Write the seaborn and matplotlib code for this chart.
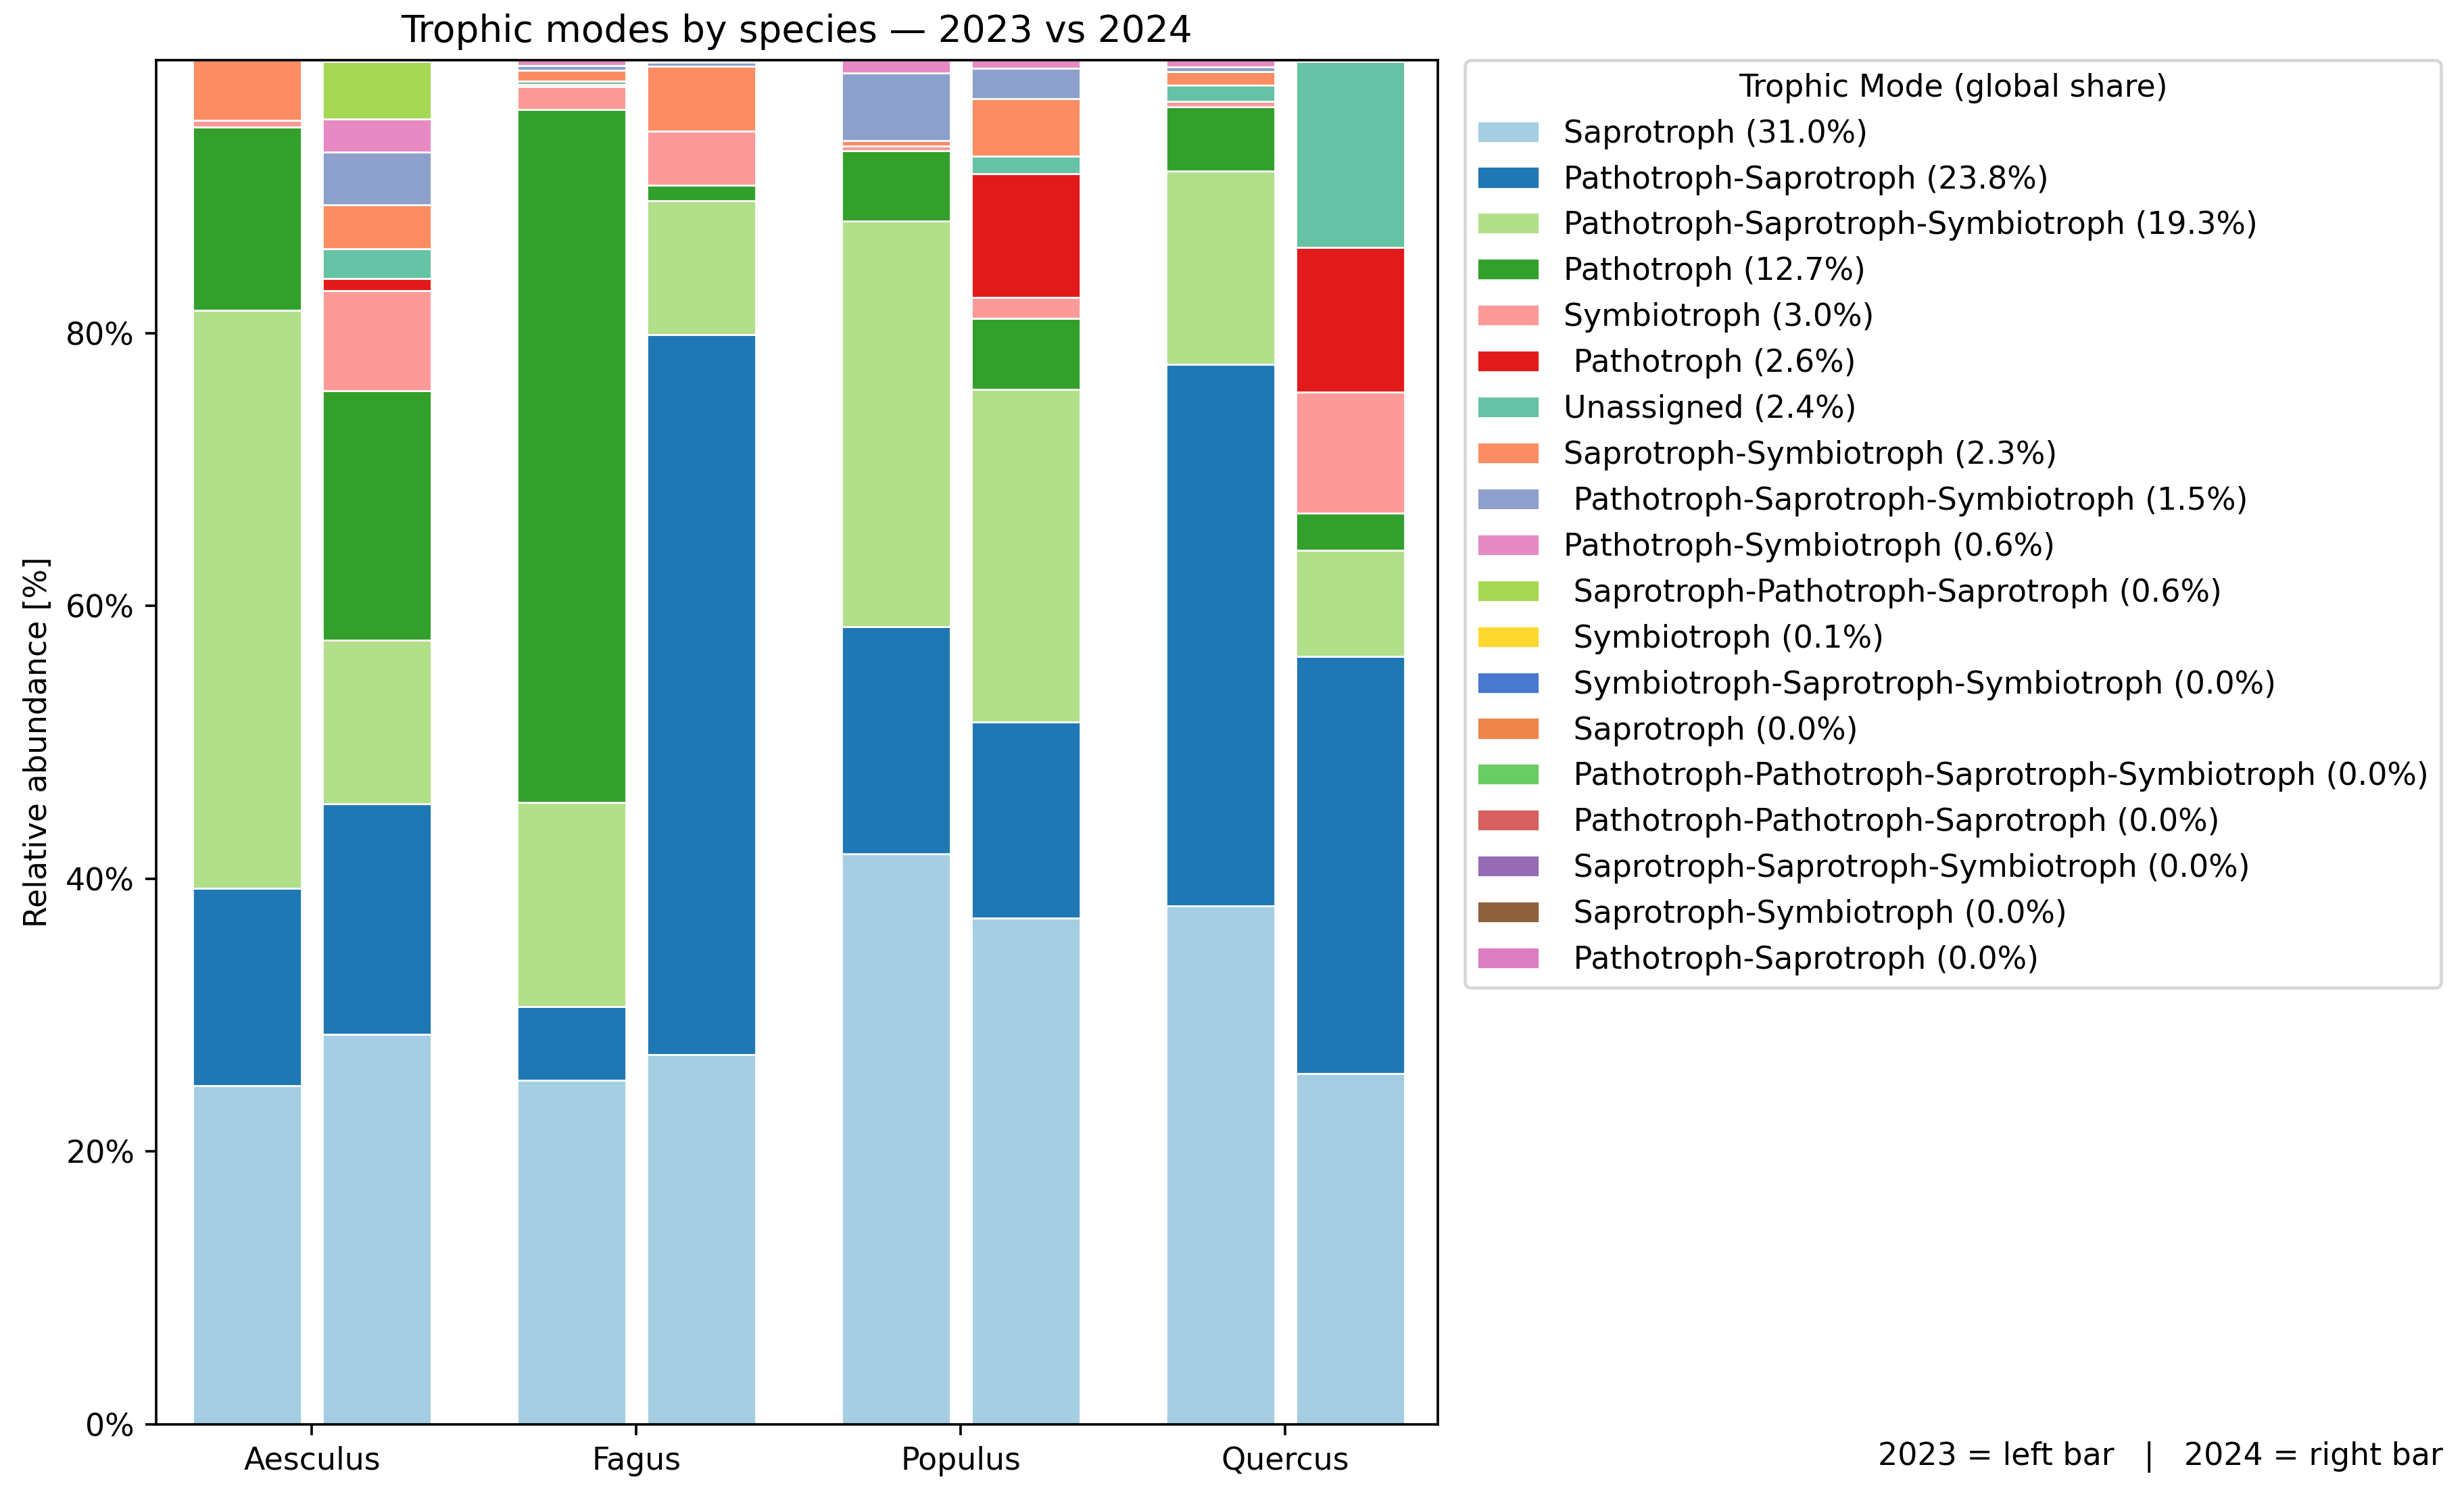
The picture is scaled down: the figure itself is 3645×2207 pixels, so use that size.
import numpy as np
import matplotlib
matplotlib.use("Agg")
import matplotlib.pyplot as plt
import seaborn as sns
from matplotlib.ticker import FuncFormatter

# species on the x axis, two bars each (2023 left, 2024 right)
species = ["Aesculus", "Fagus", "Populus", "Quercus"]
years = ["2023", "2024"]

# trophic modes in stacking / legend order
modes = [
    "Saprotroph (31.0%)",
    "Pathotroph-Saprotroph (23.8%)",
    "Pathotroph-Saprotroph-Symbiotroph (19.3%)",
    "Pathotroph (12.7%)",
    "Symbiotroph (3.0%)",
    " Pathotroph (2.6%)",
    "Unassigned (2.4%)",
    "Saprotroph-Symbiotroph (2.3%)",
    " Pathotroph-Saprotroph-Symbiotroph (1.5%)",
    "Pathotroph-Symbiotroph (0.6%)",
    " Saprotroph-Pathotroph-Saprotroph (0.6%)",
    " Symbiotroph (0.1%)",
    " Symbiotroph-Saprotroph-Symbiotroph (0.0%)",
    " Saprotroph (0.0%)",
    " Pathotroph-Pathotroph-Saprotroph-Symbiotroph (0.0%)",
    " Pathotroph-Pathotroph-Saprotroph (0.0%)",
    " Saprotroph-Saprotroph-Symbiotroph (0.0%)",
    " Saprotroph-Symbiotroph (0.0%)",
    " Pathotroph-Saprotroph (0.0%)",
]

# relative abundance [%] per bar, same order as modes
aesculus_2023 = [24.8, 14.5, 42.4, 13.4, 0.5, 0.0, 0.0, 4.4, 0.0, 0.0, 0.0, 0.0, 0, 0, 0, 0, 0, 0, 0]
aesculus_2024 = [28.6, 16.9, 12.0, 18.3, 7.3, 0.9, 2.2, 3.2, 3.9, 2.4, 4.2, 0.1, 0, 0, 0, 0, 0, 0, 0]
fagus_2023 = [25.2, 5.4, 15.0, 50.8, 1.7, 0.15, 0.25, 0.8, 0.3, 0.4, 0.0, 0.0, 0, 0, 0, 0, 0, 0, 0]
fagus_2024 = [27.1, 52.8, 9.8, 1.15, 3.95, 0.0, 0.0, 4.75, 0.3, 0.15, 0.0, 0.0, 0, 0, 0, 0, 0, 0, 0]
populus_2023 = [41.8, 16.7, 29.7, 5.2, 0.3, 0.0, 0.0, 0.4, 5.0, 0.9, 0.0, 0.0, 0, 0, 0, 0, 0, 0, 0]
populus_2024 = [37.1, 14.4, 24.4, 5.2, 1.5, 9.1, 1.3, 4.2, 2.2, 0.6, 0.0, 0.0, 0, 0, 0, 0, 0, 0, 0]
quercus_2023 = [38.0, 39.7, 14.2, 4.7, 0.4, 0.0, 1.2, 1.0, 0.3, 0.5, 0.0, 0.0, 0, 0, 0, 0, 0, 0, 0]
quercus_2024 = [25.7, 30.6, 7.8, 2.7, 8.9, 10.6, 13.6, 0.0, 0.0, 0.0, 0.0, 0.0, 0, 0, 0, 0, 0, 0.1, 0]

bars_2023 = np.array([aesculus_2023, fagus_2023, populus_2023, quercus_2023])
bars_2024 = np.array([aesculus_2024, fagus_2024, populus_2024, quercus_2024])

# colours: Paired + Set2 + muted
colors = (sns.color_palette("Paired", 12)[:6]
          + sns.color_palette("Set2", 8)[:6]
          + sns.color_palette("muted", 10)[:7])

fig, ax = plt.subplots(figsize=(3645 / 330, 2207 / 330), dpi=330)
fig.subplots_adjust(left=0.0634, right=0.5835, bottom=0.0455, top=0.9595)

x = np.arange(len(species))
width = 0.335
offset = 0.2

for data, dx in [(bars_2023, -offset), (bars_2024, offset)]:
    bottom = np.zeros(len(species))
    for j, mode in enumerate(modes):
        ax.bar(x + dx, data[:, j], width, bottom=bottom, color=colors[j],
               edgecolor="white", linewidth=0.6,
               label=mode if dx < 0 else None)
        bottom += data[:, j]

ax.set_xticks(x)
ax.set_xticklabels(species, fontsize=10)
ax.set_xlim(-0.48, 3.47)
ax.set_ylim(0, 100)
ax.set_yticks([0, 20, 40, 60, 80])
ax.yaxis.set_major_formatter(FuncFormatter(lambda v, _: f"{v:.0f}%"))
ax.set_ylabel("Relative abundance [%]", fontsize=10)
ax.set_title("Trophic modes by species \u2014 2023 vs 2024", fontsize=12)

ax.legend(title="Trophic Mode (global share)", loc="upper left",
          bbox_to_anchor=(1.021, 1.0), borderaxespad=0,
          fontsize=10, title_fontsize=10)

fig.text(0.9915, 0.013, "2023 = left bar   |   2024 = right bar",
         ha="right", va="bottom", fontsize=10)

fig.savefig("out.png", dpi=330)
